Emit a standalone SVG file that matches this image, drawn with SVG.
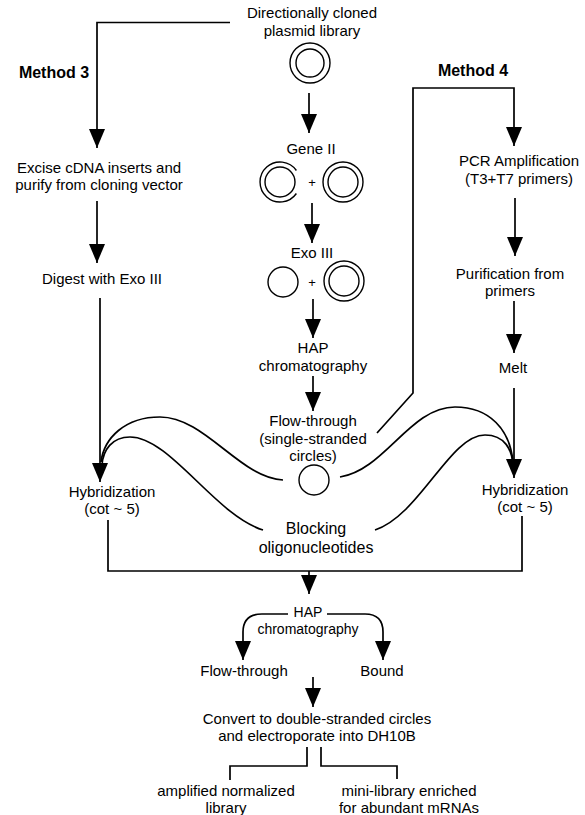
<svg xmlns="http://www.w3.org/2000/svg" width="585" height="815" viewBox="0 0 585 815">
<style>
  text { font-family: "Liberation Sans", Arial, sans-serif; font-size: 15px; fill: #000; text-anchor: middle; }
  .b { font-weight: bold; font-size: 16px; }
  .big { font-size: 16px; }
  .sm { font-size: 14px; }
  .plus { font-size: 13px; }
  .ln { fill: none; stroke: #000; stroke-width: 1.7; }
  .arr { fill: none; stroke: #000; stroke-width: 1.7; marker-end: url(#ah); }
  .c { fill: none; stroke: #000; stroke-width: 1.4; }
</style>
<defs>
  <marker id="ah" markerUnits="userSpaceOnUse" markerWidth="19" markerHeight="16" refX="19" refY="8" orient="auto">
    <path d="M0,0 L19,8 L0,16 Z" fill="#000"/>
  </marker>
</defs>
<rect width="585" height="815" fill="#fff"/>

<g id="connectors">
  <path class="arr" d="M230,22.5 H97 V148"/>
  <path class="arr" d="M97,201 V263"/>
  <path class="arr" d="M100,298 V482"/>
  <path class="arr" d="M309,93 V133"/>
  <path class="arr" d="M312,203 V243"/>
  <path class="arr" d="M313,299 V338"/>
  <path class="arr" d="M313,376 V411"/>
  <path class="arr" d="M377,433 L413,393 V88 H514 V146"/>
  <path class="arr" d="M515,198 V256"/>
  <path class="arr" d="M514,301 V353"/>
  <path class="arr" d="M514,388 V478"/>
  <path class="ln" d="M283,480 C240,478 205,417 160,417 C125,417 104,438 101,462"/>
  <path class="ln" d="M263,530 C215,515 170,437 130,437 C112,437 103,450 102,465"/>
  <path class="ln" d="M340,477 C385,470 410,407 455,407 C490,407 510,430 513,462"/>
  <path class="ln" d="M375,530 C420,515 450,435 485,435 C505,435 512,450 513,465"/>
  <path class="ln" d="M108,520 V571 H522 V516"/>
  <path class="arr" d="M309,571 V594"/>
  <path class="arr" d="M288,614 H262 Q243,614 243,632 V660"/>
  <path class="arr" d="M327,614 H365 Q383,614 383,632 V660"/>
  <path class="arr" d="M313,677 V707"/>
  <path class="ln" d="M307,747 V766 H230 V780"/>
  <path class="ln" d="M321,747 V766 H397 V779"/>
</g>

<g id="library">
  <text x="312" y="18">Directionally cloned<tspan x="312" dy="17.5">plasmid library</tspan></text>
  <circle class="c" cx="310" cy="63" r="20"/>
  <circle class="c" cx="310" cy="63" r="14"/>
</g>

<g id="method3"><text class="b" x="54" y="78">Method 3</text></g>
<g id="method4"><text class="b" x="473" y="76">Method 4</text></g>

<g id="geneII">
  <text x="311" y="154">Gene II</text>
  <path class="c" d="M296.4,170.5 A20,20 0 1 0 296.4,193.5"/>
  <circle class="c" cx="280" cy="182" r="15"/>
  <text class="plus" x="312" y="187">+</text>
  <circle class="c" cx="343" cy="182" r="20"/>
  <circle class="c" cx="343" cy="182" r="15"/>
</g>

<g id="exoIII">
  <text x="312" y="258">Exo III</text>
  <circle class="c" cx="283" cy="282" r="15"/>
  <text class="plus" x="312" y="287">+</text>
  <circle class="c" cx="344" cy="281" r="20"/>
  <circle class="c" cx="344" cy="281" r="15"/>
</g>

<g id="hap1">
  <text x="313" y="353">HAP<tspan x="313" dy="17.5">chromatography</tspan></text>
</g>

<g id="flowthrough1">
  <text x="313" y="426">Flow-through<tspan x="313" dy="17.5">(single-stranded</tspan><tspan x="313" dy="17.5">circles)</tspan></text>
  <circle class="c" cx="314" cy="480" r="15"/>
</g>

<g id="excise">
  <text x="99" y="172.5">Excise cDNA inserts and<tspan x="99" dy="17.5">purify from cloning vector</tspan></text>
</g>
<g id="digest"><text x="102" y="284">Digest with Exo III</text></g>

<g id="pcr">
  <text x="519" y="166">PCR Amplification<tspan x="519" dy="17.5">(T3+T7 primers)</tspan></text>
</g>
<g id="purification">
  <text x="510" y="278.5">Purification from<tspan x="510" dy="17.5">primers</tspan></text>
</g>
<g id="melt"><text x="513" y="373">Melt</text></g>

<g id="hyb-left">
  <text x="112" y="496.5">Hybridization<tspan x="112" dy="17.5">(cot ~ 5)</tspan></text>
</g>
<g id="hyb-right">
  <text x="525" y="494.5">Hybridization<tspan x="525" dy="17.5">(cot ~ 5)</tspan></text>
</g>

<g id="blocking">
  <text class="big" x="316" y="533.5">Blocking<tspan x="316" dy="19">oligonucleotides</tspan></text>
</g>

<g id="hap2">
  <text class="sm" x="308" y="617">HAP<tspan x="308" dy="16.5">chromatography</tspan></text>
</g>
<g id="flowthrough2"><text x="244" y="676">Flow-through</text></g>
<g id="bound"><text x="382" y="676">Bound</text></g>

<g id="convert">
  <text x="317" y="723.5">Convert to double-stranded circles<tspan x="317" dy="17.5">and electroporate into DH10B</tspan></text>
</g>

<g id="amplified">
  <text x="226" y="795.5">amplified normalized<tspan x="226" dy="17.5">library</tspan></text>
</g>
<g id="minilibrary">
  <text x="409" y="795.5">mini-library enriched<tspan x="409" dy="17.5">for abundant mRNAs</tspan></text>
</g>
</svg>
